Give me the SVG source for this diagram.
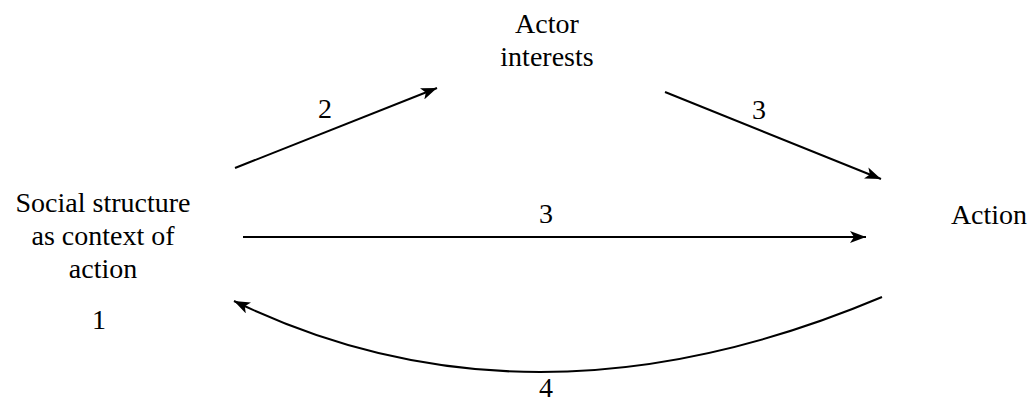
<svg xmlns="http://www.w3.org/2000/svg" width="1032" height="405" viewBox="0 0 1032 405">
<style>
.c{fill:none;stroke:#000;stroke-width:2}
</style>
<defs>
<marker id="ah" markerWidth="16" markerHeight="12" refX="16" refY="6" orient="auto" markerUnits="userSpaceOnUse">
<path d="M0,0 L16,6 L0,12 L4,6 z" fill="#000"/>
</marker>
</defs>
<rect width="1032" height="405" fill="#fff"/>
<g font-family="'Liberation Serif', 'DejaVu Serif', serif" font-size="28" text-anchor="middle" fill="#000">
<g id="actor-interests"><text x="547" y="33">Actor</text><text x="547" y="66">interests</text></g>
<g id="social-structure"><text x="103" y="212">Social structure</text><text x="103" y="245">as context of</text><text x="103" y="278">action</text><text x="99" y="329">1</text></g>
<g id="action"><text x="989" y="224">Action</text></g>
</g>
<g id="connectors">
<path class="c" d="M235,168 L437,88" marker-end="url(#ah)"/>
<path class="c" d="M665,92 L881,179" marker-end="url(#ah)"/>
<path class="c" d="M243,237 L866,237" marker-end="url(#ah)"/>
<path class="c" d="M882,297 Q531,445 234,301" marker-end="url(#ah)"/>
<g font-family="'Liberation Serif', 'DejaVu Serif', serif" font-size="28" text-anchor="middle" fill="#000">
<text x="325" y="118">2</text>
<text x="759" y="119">3</text>
<text x="546" y="223">3</text>
<text x="546" y="397">4</text>
</g>
</g>
</svg>
